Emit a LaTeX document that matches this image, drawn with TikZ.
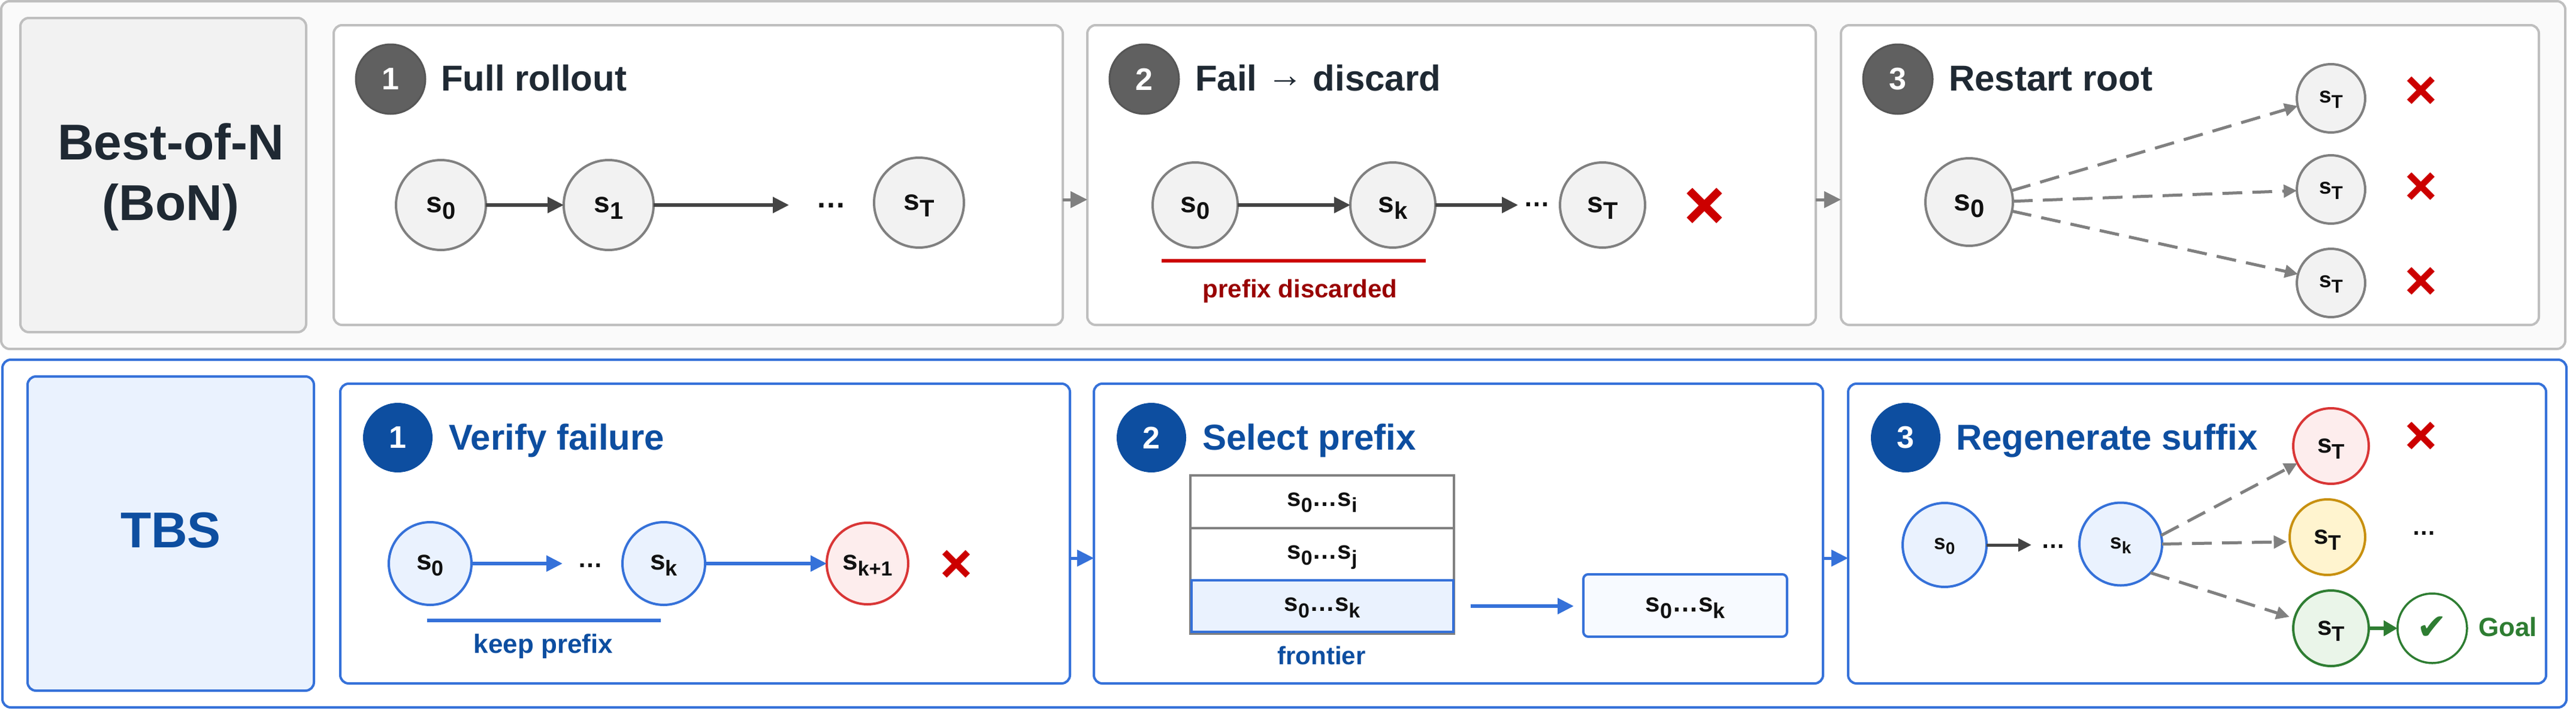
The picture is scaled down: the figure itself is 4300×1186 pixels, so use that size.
\documentclass[tikz,border=0pt]{standalone}
\usepackage{fontspec}
\setmainfont{Liberation Sans}
\newfontfamily\dejavu{DejaVu Sans}
\newfontfamily\xfont[FakeBold=5]{DejaVu Sans}
\usetikzlibrary{arrows.meta,calc}
\definecolor{ink}{HTML}{1F2933}
\definecolor{near}{HTML}{111111}
\definecolor{graybd}{HTML}{BFBFBF}
\definecolor{grayst}{HTML}{808080}
\definecolor{grayfl}{HTML}{F2F2F2}
\definecolor{dark}{HTML}{444444}
\definecolor{badgeg}{HTML}{606060}
\definecolor{bluest}{HTML}{3571D9}
\definecolor{bluefl}{HTML}{EAF2FE}
\definecolor{bluedk}{HTML}{0D4EA0}
\definecolor{redx}{HTML}{CC0000}
\definecolor{reddk}{HTML}{990000}
\definecolor{redst}{HTML}{D93636}
\definecolor{redfl}{HTML}{FDEDED}
\definecolor{yelst}{HTML}{C8900F}
\definecolor{yelfl}{HTML}{FFF4CF}
\definecolor{grnst}{HTML}{2E7D32}
\definecolor{grnfl}{HTML}{EAF5E9}
\newcommand\Fs[1]{\fontsize{#1}{#1}\selectfont}
\newcommand\Sx[3]{\Fs{#1}\bfseries s\raisebox{-.23em}{\Fs{#2}#3}}
\newcommand\Chain[3]{\Fs{#1}\bfseries s\raisebox{-.26em}{\Fs{#2}0}…s\raisebox{-.26em}{\Fs{#2}#3}}
\tikzset{
 panelbase/.style={draw,rectangle,rounded corners=14pt,inner sep=0,outer sep=0,line width=4pt},
 outertop/.style={panelbase,draw=graybd,fill=white!98!black},
 outerbot/.style={panelbase,draw=bluest,fill=white},
 sidetop/.style={panelbase,draw=graybd,fill=grayfl},
 sidebot/.style={panelbase,draw=bluest,fill=bluefl},
 paneltop/.style={panelbase,draw=graybd,fill=white},
 panelbot/.style={panelbase,draw=bluest,fill=white},
 badge/.style={circle,minimum size=116pt,inner sep=0,outer sep=0,text=white,font=\Fs{52}\bfseries},
 badgetop/.style={badge,fill=badgeg,draw=badgeg!90!black,line width=3pt},
 badgebot/.style={badge,fill=bluedk},
 title/.style={anchor=base west,inner sep=0,font=\Fs{60}\bfseries},
 sidetext/.style={inner sep=0,font=\fontsize{84}{101}\selectfont\bfseries,align=center},
 note/.style={anchor=base,inner sep=0,font=\Fs{#1}\bfseries},
 dots/.style={anchor=base,inner sep=0,text=near},
 drop/.style={text height=15pt+#1pt,text depth=15pt-#1pt},
 circ/.style={circle,draw,inner sep=0,outer sep=0,line width=4pt,text=near,minimum size=2*#1pt},
 gstate/.style={circ=#1,draw=grayst,fill=grayfl},
 bstate/.style={circ=#1,draw=bluest,fill=bluefl},
 xmark/.style={inner sep=0,text=redx,font=\xfont\Fs{#1}},
 darrow/.style={draw=dark,line width=5.5pt,-{Triangle[length=27pt,width=26pt]}},
 barrow/.style={draw=bluest,line width=5.5pt,-{Triangle[length=27pt,width=26pt]}},
 dasharrow/.style={draw=grayst,line width=5pt,dash pattern=on 33pt off 17pt,-{Triangle[length=22pt,width=21pt]}},
 linktop/.style={draw=grayst,line width=5pt,-{Triangle[length=28pt,width=27pt]}},
 linkbot/.style={draw=bluest,line width=5pt,-{Triangle[length=28pt,width=27pt]}},
 rowgray/.style={rectangle,draw=grayst,line width=3.5pt,fill=white,inner sep=0,outer sep=0,minimum width=440pt,text=near},
}
\begin{document}
\begin{tikzpicture}[x=1pt,y=-1pt]
\useasboundingbox (0,0) rectangle (4300,1186);
% Best-of-N row
\node[outertop,minimum width=4280pt,minimum height=580pt] (otop) at (2142,292) {};
\node[sidetop,minimum width=477pt,minimum height=524pt] (bon) at (272.5,292) {};
\node[sidetext,text=ink] (bonlab) at (285,295) {Best-of-N\\(BoN)};
\node[paneltop,minimum width=1217pt,minimum height=500pt] (pa) at (1165.5,292) {};
\node[paneltop,minimum width=1216pt,minimum height=500pt] (pb) at (2423,292) {};
\node[paneltop,minimum width=1165pt,minimum height=500pt] (pc) at (3655.5,292) {};
\coordinate (ylt) at (0,333);
\draw[linktop] (pa.east |- ylt) -- (pb.west |- ylt);
\draw[linktop] (pb.east |- ylt) -- (pc.west |- ylt);
\node[badgetop] (ba) at (652,132) {1};
\node[title,text=ink] (ta) at (736,151) {Full rollout};
\node[badgetop] (bb) at (1910,132) {2};
\node[title,text=ink] (tb) at (1995,151) {Fail \raisebox{6pt}{→} discard};
\node[badgetop] (bc) at (3168,132) {3};
\node[title,text=ink] (tc) at (3253,151) {Restart root};
% panel a
\node[gstate=75,drop=12] (a0) at (736,342) {\Sx{48}{40}{0}};
\node[gstate=75,drop=12] (a1) at (1016,342) {\Sx{48}{40}{1}};
\node[gstate=75,drop=12.5] (aT) at (1534,338) {\Sx{48}{40}{T}};
\node[dots,font=\Fs{50}\bfseries] (ad) at (1387,346) {…};
\coordinate (ae) at (1317,342);
\draw[darrow] (a0) -- (a1);
\draw[darrow] (a1) -- (ae);
% panel b
\node[gstate=71,drop=12] (b0) at (1995,342) {\Sx{48}{40}{0}};
\node[gstate=71,drop=12] (bk) at (2325,342) {\Sx{48}{40}{k}};
\node[gstate=71,drop=12] (bT) at (2675,342) {\Sx{48}{40}{T}};
\node[dots,font=\Fs{44}\bfseries] (bd) at (2565,344) {…};
\coordinate (be) at (2534,342);
\draw[darrow] (b0) -- (bk);
\draw[darrow] (bk) -- (be);
\node[xmark=90] (bx) at (2845,346) {✕};
\coordinate (bua) at (1939,435);
\coordinate (bub) at (2380,435);
\draw[draw=redx,line width=6pt] (bua) -- (bub);
\node[note=42,text=reddk] (bn) at (2170,496) {prefix discarded};
% panel c
\node[gstate=73,drop=14] (c0) at (3287,337) {\Sx{50}{42}{0}};
\node[gstate=57,drop=7.5] (c1) at (3891,164) {\Sx{37}{31}{T}};
\node[gstate=57,drop=7.5] (c2) at (3891,316) {\Sx{37}{31}{T}};
\node[gstate=57,drop=7.5] (c3) at (3891,472) {\Sx{37}{31}{T}};
\draw[dasharrow] (c0.15.7) -- (c1.193.5);
\draw[dasharrow] (c0.1.5) -- (c2.182);
\draw[dasharrow] (c0.-12.2) -- (c3.165);
\node[xmark=70] (cx1) at (4041,153) {✕};
\node[xmark=70] (cx2) at (4041,313) {✕};
\node[xmark=70] (cx3) at (4041,471) {✕};
% TBS row
\node[outerbot,minimum width=4280pt,minimum height=580pt] (obot) at (2144,890) {};
\node[sidebot,minimum width=478pt,minimum height=524pt] (tbs) at (285,890) {};
\node[anchor=base,inner sep=0,font=\Fs{84}\bfseries,text=bluedk] (tbslab) at (285,913) {TBS};
\node[panelbot,minimum width=1218pt,minimum height=500pt] (qa) at (1177,890) {};
\node[panelbot,minimum width=1217pt,minimum height=500pt] (qb) at (2434.5,890) {};
\node[panelbot,minimum width=1165pt,minimum height=500pt] (qc) at (3667.5,890) {};
\coordinate (ylb) at (0,931);
\draw[linkbot] (qa.east |- ylb) -- (qb.west |- ylb);
\draw[linkbot] (qb.east |- ylb) -- (qc.west |- ylb);
\node[badgebot] (da) at (664,730) {1};
\node[title,text=bluedk] (ea) at (749,750.5) {Verify failure};
\node[badgebot] (db) at (1922,730) {2};
\node[title,text=bluedk] (eb) at (2007,750.5) {Select prefix};
\node[badgebot] (dc) at (3181,730) {3};
\node[title,text=bluedk] (ec) at (3265,750.5) {Regenerate suffix};
% panel q1
\node[bstate=69,drop=10] (q0) at (718,940) {\Sx{46}{36}{0}};
\node[bstate=69,drop=10] (qk) at (1108,940) {\Sx{46}{36}{k}};
\node[circ=68,draw=redst,fill=redfl,drop=10] (qn) at (1448,940) {\Sx{46}{34}{k+1}};
\node[dots,font=\Fs{42}\bfseries] (qd) at (985,946) {…};
\coordinate (qe) at (939,940);
\draw[barrow] (q0) -- (qe);
\draw[barrow] (qk) -- (qn);
\node[xmark=70] (qx) at (1596,943) {✕};
\coordinate (qua) at (713,1035);
\coordinate (qub) at (1103,1035);
\draw[draw=bluest,line width=6pt] (qua) -- (qub);
\node[note=44,text=bluedk] (qnote) at (907,1089) {keep prefix};
% panel q2
\node[rowgray,minimum height=88pt,drop=7] (r1) at (2207,837) {\Chain{42}{34}{i}};
\node[rowgray,minimum height=87pt,drop=7.5] (r2) at (2207,924.5) {\Chain{42}{34}{j}};
\node[rowgray,minimum height=89pt] (r3) at (2207,1012.5) {};
\node[rectangle,draw=bluest,fill=bluefl,line width=4pt,inner sep=0,outer sep=0,minimum width=437pt,minimum height=86pt,text=near,drop=8.5] (rk) at (2207,1011) {\Chain{42}{34}{k}};
\node[note=42,text=bluedk] (rn) at (2206,1108) {frontier};
\node[rectangle,rounded corners=8pt,draw=bluest,fill=bluefl!40!white,line width=4pt,inner sep=0,outer sep=0,minimum width=340pt,minimum height=104pt,text=near,drop=10] (res) at (2813,1010) {\Chain{44}{36}{k}};
\draw[barrow,shorten <=29pt,shorten >=16pt] (rk.east) -- (res.west |- rk.east);
% panel q3
\node[bstate=70,drop=7.5] (s0) at (3246,909) {\Sx{35}{28}{0}};
\node[bstate=69,drop=7.5] (sk) at (3540,907.5) {\Sx{35}{28}{k}};
\node[dots,font=\Fs{40}\bfseries] (sd) at (3427,914) {…};
\coordinate (se) at (3391,909);
\draw[draw=dark,line width=5pt,-{Triangle[length=22pt,width=21pt]}] (s0) -- (se);
\node[circ=63,draw=redst,fill=redfl,drop=11] (t1) at (3891,744) {\Sx{44}{35}{T}};
\node[circ=63,draw=yelst,fill=yelfl,drop=11] (t2) at (3885,896) {\Sx{44}{35}{T}};
\node[circ=63,draw=grnst,fill=grnfl,drop=11] (t3) at (3891,1048) {\Sx{44}{35}{T}};
\draw[dasharrow] (sk.12) -- (t1.207);
\draw[dasharrow,shorten >=5pt] (sk.0) -- (t2.187);
\draw[dasharrow,shorten >=9pt] (sk.-44) -- (t3.165);
\node[xmark=70] (tx) at (4041,729) {✕};
\node[dots,font=\Fs{40}\bfseries] (td) at (4046,892) {…};
\node[circle,draw=grnst,fill=white,line width=3.5pt,inner sep=0,outer sep=0,minimum size=116pt,text=grnst,font=\dejavu\Fs{60}] (chk) at (4060,1048) {✔};
\draw[draw=grnst,line width=6pt,-{Triangle[length=23pt,width=25pt]}] (t3) -- (chk);
\node[note=44,text=grnst,anchor=base west] (goal) at (4137,1061) {Goal};
\end{tikzpicture}
\end{document}
